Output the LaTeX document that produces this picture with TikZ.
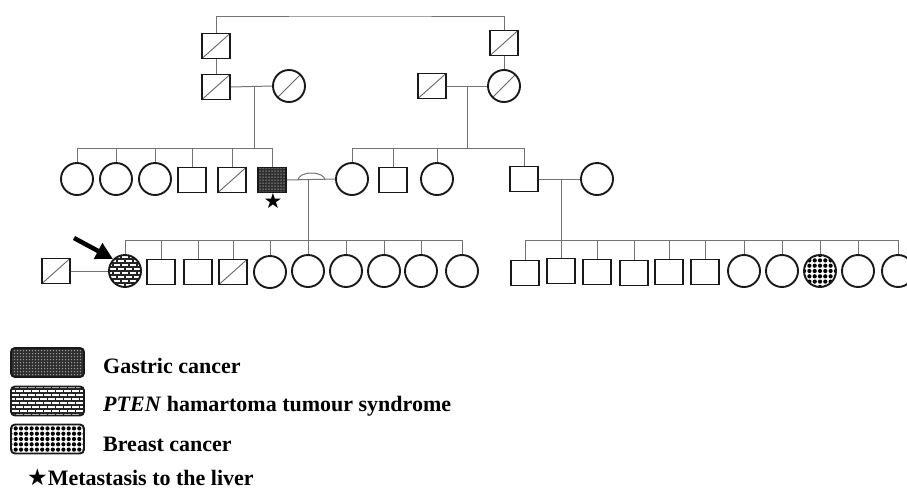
\documentclass[tikz,border=0pt]{standalone}
\usepackage{fontspec}
\setmainfont{Liberation Serif}
\newfontfamily\symfont{DejaVu Sans}
\usetikzlibrary{arrows.meta,calc}

\tikzset{
  sym/.style={draw=black!90, line width=1.9pt, fill=white, inner sep=0pt},
  sq/.style={sym, rectangle, minimum width=28pt, minimum height=25pt},
  ci/.style={sym, circle, minimum size=32pt},
  dec/.style={path picture={\draw[black!60, line width=0.9pt]
      (path picture bounding box.south west) -- (path picture bounding box.north east);}},
  gastricfill/.style={fill=black!82, path picture={
      \foreach \i in {-13,...,13} \foreach \j in {-6,...,6}
        \fill[black!40] ([shift={(\i*3pt,\j*3pt)}]path picture bounding box.center) circle (0.75pt);}},
  bricksfill/.style={fill=white, path picture={
      \foreach \j [evaluate=\j as \off using {mod(\j+10,2)*4}] in {-5,...,5} {
        \draw[black!85, line width=1.1pt]
          ([shift={(-40pt,\j*4pt)}]path picture bounding box.center) -- ++(80pt,0pt);
        \foreach \i in {-5,...,5}
          \draw[black!85, line width=1.1pt]
            ([shift={(\i*8pt+\off*1pt,\j*4pt)}]path picture bounding box.center) -- ++(0pt,4pt);
      }}},
  dotsfill/.style={fill=white, path picture={
      \foreach \i in {-8,...,8} \foreach \j in {-4,...,4}
        \fill[black] ([shift={(\i*5.3pt,\j*5.3pt)}]path picture bounding box.center) circle (2.1pt);}},
  conn/.style={draw=black!55, line width=1pt},
  legbox/.style={draw=black!90, line width=1.9pt, rounded corners=4pt,
      minimum width=73pt, minimum height=29pt, inner sep=0pt},
  legtext/.style={anchor=base west, inner sep=0pt,
      font=\bfseries\fontsize{22}{26}\selectfont},
  starsym/.style={inner sep=0pt, font=\symfont\fontsize{21}{21}\selectfont}
}

\begin{document}
\begin{tikzpicture}[x=1pt,y=-1pt]
\useasboundingbox (0,0) rectangle (907,493);

% ---------- Generation I ----------
\node[sq,dec] (I1) at (216,46) {};
\node[sq,dec] (I2) at (504,43) {};
\coordinate (top) at (360,16);
\draw[conn] (I1.north) |- (top) -| (I2.north);

% ---------- Generation II ----------
\node[sq,dec] (II1) at (216,87) {};
\node[ci,dec] (II2) at (289,86) {};
\node[sq,dec] (II3) at (432,86) {};
\node[ci,dec] (II4) at (504,86) {};
\draw[conn] (I1.south) -- (II1.north);
\draw[conn] (I2.south) -- (II4.north);
\draw[conn] (II1.east) -- (II2.west);
\draw[conn] (II3.east) -- (II4.west);
\coordinate (m1) at (254,86);
\coordinate (s1) at (254,148);
\coordinate (m2) at (467,86);
\coordinate (s2) at (467,148);
\draw[conn] (m1) -- (s1);
\draw[conn] (m2) -- (s2);

% ---------- Generation III ----------
\node[ci] (III1) at (77,179) {};
\node[ci] (III2) at (116,179) {};
\node[ci] (III3) at (155,179) {};
\node[sq] (III4) at (192,180) {};
\node[sq,dec] (III5) at (232,180) {};
\node[sq,gastricfill] (III6) at (272,180) {};
\node[starsym] (star1) at (273,201) {★};
\node[ci] (III7) at (352,179) {};
\node[sq] (III8) at (393,180) {};
\node[ci] (III9) at (437,179) {};
\node[sq] (III10) at (524,179) {};
\node[ci] (III11) at (597,179) {};

\draw[conn] (III1.north) -- (III1.north |- s1) -- (III6.north |- s1) -- (III6.north);
\foreach \n in {III2,III3,III4,III5}
  \draw[conn] (\n.north) -- (\n.north |- s1);
\draw[conn] (III7.north) -- (III7.north |- s2) -- (III10.north |- s2) -- (III10.north);
\foreach \n in {III8,III9}
  \draw[conn] (\n.north) -- (\n.north |- s2);

\draw[conn] (III6.east) -- (III7.west);
\coordinate (hop) at (298,180);
\draw[conn] (hop) arc[start angle=180, end angle=360, x radius=13.5, y radius=7];
\coordinate (m3) at (308,180);
\coordinate (s3) at (308,240);
\draw[conn] (m3) -- (s3);

\draw[conn] (III10.east) -- (III11.west);
\coordinate (m4) at (561,179);
\coordinate (s4) at (561,240);
\draw[conn] (m4) -- (s4);

% ---------- Generation IV ----------
\node[sq,dec] (IV0) at (56,271) {};
\node[ci,bricksfill] (IV1) at (125,271) {};
\node[sq] (IV2) at (161,272) {};
\node[sq] (IV3) at (198,272) {};
\node[sq,dec] (IV4) at (233,272) {};
\node[ci] (IV5) at (270,272) {};
\node[ci] (IV6) at (308,271) {};
\node[ci] (IV7) at (346,271) {};
\node[ci] (IV8) at (384,271) {};
\node[ci] (IV9) at (421,271) {};
\node[ci] (IV10) at (462,271) {};
\draw[conn] (IV0.east) -- (IV1.west);
\draw[conn] (IV1.north) -- (IV1.north |- s3) -- (IV10.north |- s3) -- (IV10.north);
\foreach \n in {IV2,IV3,IV4,IV5,IV6,IV7,IV8,IV9}
  \draw[conn] (\n.north) -- (\n.north |- s3);

\coordinate (arr) at (74,238);
\draw[line width=4.5pt, -{Triangle[length=17pt,width=17pt]}] (arr) -- (IV1.135);

\node[sq] (IV11) at (525,273) {};
\node[sq] (IV12) at (561,271) {};
\node[sq] (IV13) at (597,272) {};
\node[sq] (IV14) at (634,273) {};
\node[sq] (IV15) at (669,272) {};
\node[sq] (IV16) at (705,272) {};
\node[ci] (IV17) at (744,271) {};
\node[ci] (IV18) at (782,271) {};
\node[ci,dotsfill] (IV19) at (820,271) {};
\node[ci] (IV20) at (858,271) {};
\node[ci] (IV21) at (898,271) {};
\draw[conn] (IV11.north) -- (IV11.north |- s4) -- (IV21.north |- s4) -- (IV21.north);
\foreach \n in {IV12,IV13,IV14,IV15,IV16,IV17,IV18,IV19,IV20}
  \draw[conn] (\n.north) -- (\n.north |- s4);

% ---------- Legend ----------
\node[legbox,gastricfill] (L1) at (47.5,362.5) {};
\node[legbox,bricksfill] (L2) at (47.5,401) {};
\node[legbox,dotsfill] (L3) at (47.5,439) {};
\node[legtext] (T1) at (103,373) {Gastric cancer};
\node[legtext] (T2) at (103,411) {\textit{PTEN} hamartoma tumour syndrome};
\node[legtext] (T3) at (103,451) {Breast cancer};
\node[legtext] (T4) at (27,485) {{\symfont\fontsize{23}{23}\selectfont ★}Metastasis to the liver};
\end{tikzpicture}
\end{document}
